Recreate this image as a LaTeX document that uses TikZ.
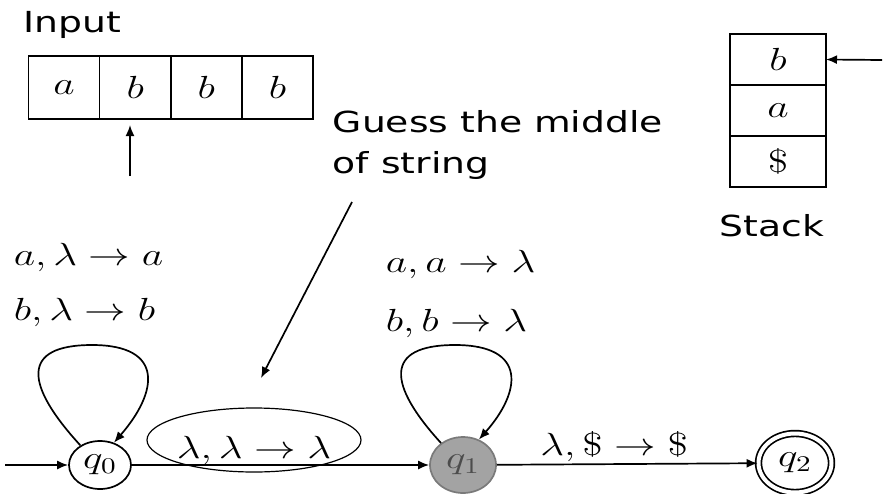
\RequirePackage{fix-cm}
\documentclass[tikz,border=0pt]{standalone}
\usepackage{fontspec}
\newfontfamily\handfont{DejaVu Sans}
\usepackage{graphicx}
\usepackage{xcolor}
\definecolor{StateGray}{HTML}{A3A3A3}
\definecolor{StateEdge}{HTML}{7A7A7A}
\usetikzlibrary{arrows.meta,positioning,shapes.geometric,calc}
\newcommand{\wide}[1]{\scalebox{1.3}[1]{#1}}

\begin{document}
\begin{tikzpicture}[x=0.5pt,y=-0.5pt,>={Latex[length=5.5pt,width=4.5pt]},line width=0.85pt,
cell/.style={draw,minimum width=35.6pt,minimum height=31.5pt,inner sep=0pt,outer sep=0pt,font=\fontsize{16}{19}\selectfont},
slot/.style={draw,minimum width=48pt,minimum height=25.5pt,inner sep=0pt,outer sep=0pt,font=\fontsize{16}{19}\selectfont},
state/.style={draw,ellipse,inner sep=0pt,font=\fontsize{16}{19}\selectfont},
note/.style={font=\handfont\fontsize{14.5}{20.5}\selectfont,inner sep=0pt},
rule/.style={font=\fontsize{16}{19}\selectfont,inner sep=0pt}]
\useasboundingbox (0,0) rectangle (884,493);
% input tape
\node[note,anchor=base west] (input) at (23,32) {\wide{Input}};
\node[cell] (t1) at (64,87.5) {\wide{$a$}};
\node[cell,right=0pt of t1] (t2) {\wide{$b$}};
\node[cell,right=0pt of t2] (t3) {\wide{$b$}};
\node[cell,right=0pt of t3] (t4) {\wide{$b$}};
\coordinate (head) at (130,176);
\draw[->,shorten >=3pt] (head) -- (head |- t2.south);
% stack
\node[slot] (s1) at (778,59.5) {\wide{$b$}};
\node[slot,below=0pt of s1] (s2) {\wide{$a$}};
\node[slot,below=0pt of s2] (s3) {\wide{$\$$}};
\node[note] (stack) at (772,226) {\wide{Stack}};
\coordinate (top) at (882,60);
\draw[->] (top) -- (s1.east);
% hint
\node[note,align=left,anchor=north west] (hint) at (332,110) {\wide{Guess the middle}\\\wide{of string}};
\coordinate (gtail) at (352,202);
\coordinate (gtip) at (261,378);
\draw[->] (gtail) -- (gtip);
% states
\node[state,minimum width=31pt,minimum height=24pt] (q0) at (100,465) {\wide{$q_0$}};
\node[state,fill=StateGray,draw=StateEdge,text=black!70,minimum width=33pt,minimum height=28pt] (q1) at (463,465) {\wide{$q_1$}};
\node[state,double,double distance=2pt,minimum width=36.5pt,minimum height=29.5pt] (q2) at (795,463) {\wide{$q_2$}};
% loop labels
\node[rule,anchor=base west] (pusha) at (13,265) {\wide{$a,\lambda\to a$}};
\node[rule,anchor=base west] (pushb) at (13,320) {\wide{$b,\lambda\to b$}};
\node[rule,anchor=base west] (popa) at (385,272) {\wide{$a,a\to\lambda$}};
\node[rule,anchor=base west] (popb) at (385,331) {\wide{$b,b\to\lambda$}};
\node[rule,anchor=base] (guess) at (254,458) {\wide{$\lambda,\lambda\to\lambda$}};
\draw[line width=0.6pt] ($(guess.base)+(0,-18)$) ellipse [x radius=53.5pt,y radius=16pt];
% transitions
\coordinate (start) at (5,465);
\draw[->] (start) -- (q0);
\draw[->] (q0) -- (q1);
\draw[->] (q1) -- node[rule,above=1pt,pos=.45] (last) {\wide{$\lambda,\$\to\$$}} (q2);
\foreach \s in {q0,q1}
  \draw[->] (\s.135) .. controls ($(\s)+(-75,-80)$) and ($(\s)+(-80,-120)$) .. ($(\s)+(-8,-120)$)
    .. controls ($(\s)+(65,-120)$) and ($(\s)+(58,-73)$) .. (\s.58);
\end{tikzpicture}
\end{document}
